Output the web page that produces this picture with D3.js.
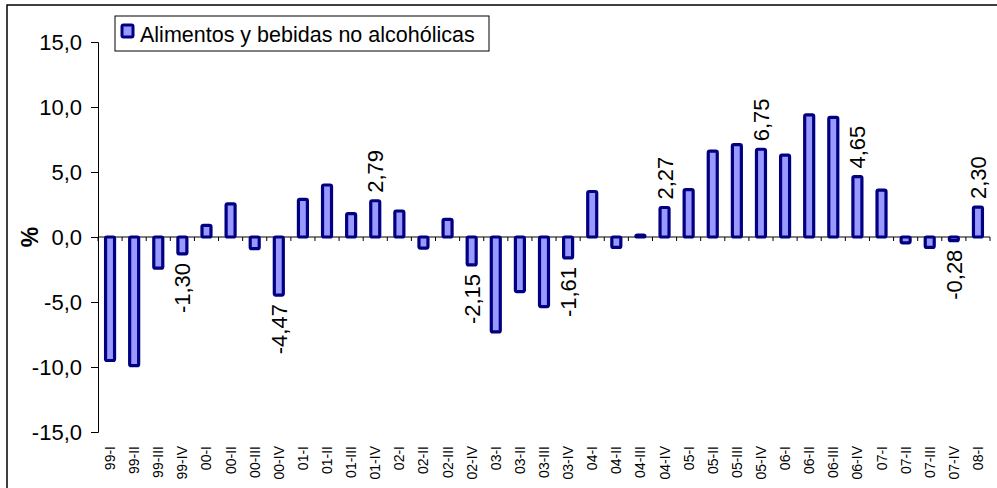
<!DOCTYPE html>
<html>
<head>
<meta charset="utf-8">
<script src="https://cdn.jsdelivr.net/npm/d3@7"></script>
<style>
  body { margin: 0; background: #fff; }
  text { font-family: Arial, "Liberation Sans", sans-serif; }
</style>
</head>
<body>
<div id="chart"></div>
<script>
// Quarterly change, food and non-alcoholic drinks (%)
const years = ["99", "00", "01", "02", "03", "04", "05", "06", "07"];
const quarters = ["I", "II", "III", "IV"];
const categories = years.flatMap(y => quarters.map(q => y + "-" + q)).concat(["08-I"]);

const values = [
  -9.5, -9.9, -2.4, -1.30,
  0.9, 2.55, -0.9, -4.47,
  2.9, 4.0, 1.8, 2.79,
  2.0, -0.85, 1.35, -2.15,
  -7.3, -4.2, -5.35, -1.61,
  3.5, -0.8, 0.15, 2.27,
  3.65, 6.6, 7.1, 6.75,
  6.3, 9.4, 9.2, 4.65,
  3.6, -0.45, -0.8, -0.28,
  2.30
];

// bars that carry a value label
const labelled = ["99-IV", "00-IV", "01-IV", "02-IV", "03-IV", "04-IV", "05-IV", "06-IV", "07-IV", "08-I"];

const yTicks = [-15, -10, -5, 0, 5, 10, 15];
const seriesName = "Alimentos y bebidas no alcohólicas";

const width = 997, height = 488;
const margin = { left: 98, right: 7, top: 42, bottom: 56 };

const svg = d3.select("#chart").append("svg")
  .attr("width", width)
  .attr("height", height);

// outer frame
svg.append("rect")
  .attr("x", 7).attr("y", 5)
  .attr("width", 1000).attr("height", 500)
  .attr("fill", "none")
  .attr("stroke", "#000")
  .attr("stroke-width", 1.5);

const x = d3.scaleBand()
  .domain(categories)
  .range([margin.left, width - margin.right]);

const y = d3.scaleLinear()
  .domain([-15, 15])
  .range([432, 42]);

// comma decimals, plain hyphen for minus
const fmt = v => d3.format(".1f")(v).replace(".", ",").replace("\u2212", "-");
const fmt2 = v => d3.format(".2f")(v).replace(".", ",").replace("\u2212", "-");

// y axis
const yAxis = svg.append("g")
  .attr("transform", "translate(" + margin.left + ",0)")
  .call(d3.axisLeft(y).tickValues(yTicks).tickFormat(fmt).tickSize(7).tickPadding(9));
yAxis.select(".domain").attr("stroke", "#000");
yAxis.selectAll("text").attr("font-size", "22px").attr("fill", "#000");

// y title
svg.append("text")
  .attr("transform", "translate(38," + y(0) + ") rotate(-90)")
  .attr("text-anchor", "middle")
  .attr("font-size", "23px")
  .attr("font-weight", "bold")
  .text("%");

// x axis line at zero with ticks between categories
const zeroY = y(0);
svg.append("line")
  .attr("x1", margin.left).attr("x2", x.range()[1])
  .attr("y1", zeroY).attr("y2", zeroY)
  .attr("stroke", "#000");

const tickPos = categories.map(c => x(c)).concat([x.range()[1]]);
svg.append("g").selectAll("line")
  .data(tickPos)
  .join("line")
  .attr("x1", d => d).attr("x2", d => d)
  .attr("y1", zeroY).attr("y2", zeroY + 4)
  .attr("stroke", "#000");

// category labels at the bottom
svg.append("g").selectAll("text")
  .data(categories)
  .join("text")
  .attr("transform", d => "translate(" + (x(d) + x.bandwidth() / 2 + 5) + ",446) rotate(-90)")
  .attr("text-anchor", "end")
  .attr("font-size", "14px")
  .text(d => d);

// bars
const barW = 9;
svg.append("g").selectAll("rect")
  .data(categories)
  .join("rect")
  .attr("x", d => x(d) + x.bandwidth() / 2 - barW / 2)
  .attr("y", (d, i) => Math.min(y(values[i]), zeroY))
  .attr("width", barW)
  .attr("height", (d, i) => Math.abs(y(values[i]) - zeroY))
  .attr("rx", 1.5)
  .attr("fill", "#9999FF")
  .attr("stroke", "#000080")
  .attr("stroke-width", 3.2);

// value labels
svg.append("g").selectAll("text")
  .data(categories.filter(c => labelled.includes(c)))
  .join("text")
  .attr("transform", d => {
    const v = values[categories.indexOf(d)];
    const cx = x(d) + x.bandwidth() / 2 + 8;
    const cy = v >= 0 ? y(v) - 8 : y(v) + 9;
    return "translate(" + cx + "," + cy + ") rotate(-90)";
  })
  .attr("text-anchor", d => values[categories.indexOf(d)] >= 0 ? "start" : "end")
  .attr("font-size", "22px")
  .text(d => fmt2(values[categories.indexOf(d)]));

// legend
const lg = svg.append("g");
lg.append("rect")
  .attr("x", 115).attr("y", 16)
  .attr("width", 374).attr("height", 35)
  .attr("fill", "#fff")
  .attr("stroke", "#000")
  .attr("stroke-width", 1);
lg.append("rect")
  .attr("x", 122).attr("y", 25)
  .attr("width", 11).attr("height", 12)
  .attr("rx", 1.5)
  .attr("fill", "#9999FF")
  .attr("stroke", "#000080")
  .attr("stroke-width", 3);
lg.append("text")
  .attr("x", 140).attr("y", 42)
  .attr("font-size", "21.5px")
  .text(seriesName);
</script>
</body>
</html>
